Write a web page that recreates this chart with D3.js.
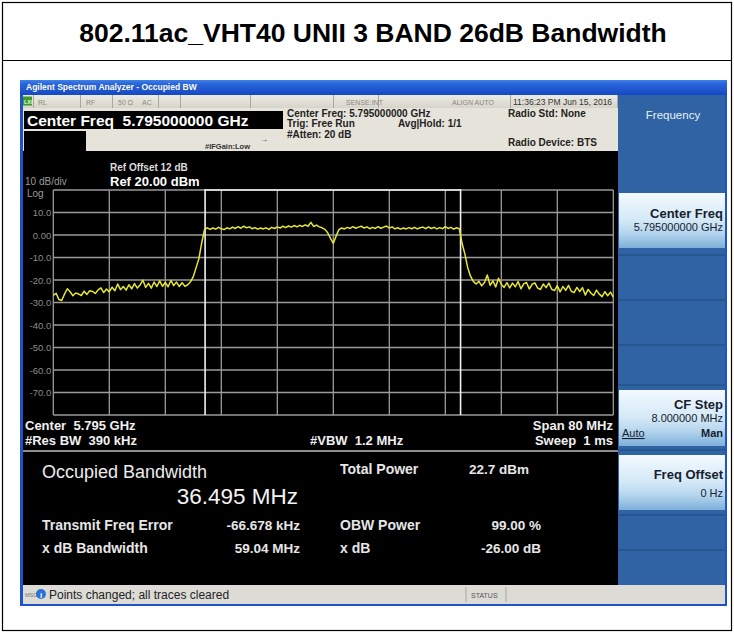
<!DOCTYPE html>
<html>
<head>
<meta charset="utf-8">
<script src="https://cdn.jsdelivr.net/npm/d3@7"></script>
<style>
  body { margin: 0; background: #fff; }
  svg { display: block; }
  text { font-family: "Liberation Sans", Arial, sans-serif; white-space: pre; }
</style>
</head>
<body>
<svg id="chart" width="734" height="633"></svg>
<script>
// ---- measurement setup -------------------------------------------------
const chartTitle = "802.11ac_VHT40 UNII 3 BAND 26dB Bandwidth";
const spanMHz = 80;
const refLevelDbm = 20;
const dbPerDiv = 10;
const numDivs = 10;

// y-axis scale labels (one per graticule line below the reference level)
const yTickValues = [10, 0, -10, -20, -30, -40, -50, -60, -70];
const yTickLabels = ["10.0", "0.00", "-10.0", "-20.0", "-30.0", "-40.0", "-50.0", "-60.0", "-70.0"];

// sweep trace (dBm), points spread evenly over the span, low to high frequency
const traceDbm = [
  -26.8,-25.9,-28.7,-29.1,-26.3,-23.9,-25.2,-27.0,-25.8,-26.2,
  -26.9,-25.0,-26.4,-24.8,-25.1,-26.0,-24.4,-23.5,-25.6,-24.0,
  -25.3,-23.2,-24.8,-21.8,-24.3,-22.9,-24.5,-22.1,-23.9,-21.6,
  -23.6,-22.2,-20.1,-23.3,-21.5,-23.6,-20.9,-22.9,-20.4,-22.8,
  -21.1,-23.0,-20.2,-22.5,-20.9,-22.9,-21.2,-22.8,-22.1,-20.8,
  -18.5,-14.5,-10.5,-3.5,2.4,
  3.2,2.5,3.1,2.6,3.4,2.8,2.4,3.2,2.7,3.5,
  2.9,3.7,3.0,3.9,3.2,3.6,2.8,3.3,2.6,3.1,
  2.7,3.2,2.5,3.4,2.9,3.6,3.1,3.9,3.3,4.0,
  3.5,4.2,3.6,4.3,3.8,4.5,3.9,5.6,3.8,4.4,
  3.6,
  3.2,2.5,1.0,-1.5,-3.7,-0.5,2.4,3.1,2.7,
  3.4,2.9,3.7,3.0,3.5,3.9,3.1,3.6,2.8,3.4,
  2.9,3.7,3.0,3.5,4.0,3.1,3.6,2.7,3.2,2.6,
  3.1,2.7,3.3,2.8,3.4,2.7,3.2,3.5,2.8,3.6,
  2.9,3.4,2.7,3.3,2.8,3.7,2.9,3.4,2.6,3.2,
  2.8,
  -3.8,-8.5,-14.5,-18.3,-20.6,-21.8,
  -20.6,-22.6,-21.1,-17.8,-22.4,-20.4,-23.1,-19.2,-21.9,-23.3,
  -21.2,-23.5,-21.4,-23.0,-20.7,-23.9,-21.7,-21.1,-24.0,-21.9,
  -21.3,-23.6,-24.2,-21.8,-23.4,-21.4,-24.1,-24.7,-22.5,-25.3,
  -22.9,-24.6,-22.4,-25.0,-25.6,-23.3,-25.1,-23.4,-26.7,-24.2,
  -25.8,-26.9,-24.5,-26.3,-27.4,-25.2,-27.0,-25.4,-27.6
];

// occupied bandwidth result; the OBW window is centred on the measured carrier
const obwMHz = 36.495;
const freqErrorKHz = -66.678;

// results table
const resultNames  = ["Total Power", "Transmit Freq Error", "OBW Power", "x dB Bandwidth", "x dB"];
const resultValues = ["22.7 dBm", "-66.678 kHz", "99.00 %", "59.04 MHz", "-26.00 dB"];

// header / footer annotations
const headerLines = ["Center Freq: 5.795000000 GHz", "Trig: Free Run", "#Atten: 20 dB"];
const footerLeft  = ["Center  5.795 GHz", "#Res BW  390 kHz"];
const footerRight = ["Span 80 MHz", "Sweep  1 ms"];

// ---- drawing -----------------------------------------------------------
const svg = d3.select("#chart");
const defs = svg.append("defs");

function vGrad(id, stops) {
  const g = defs.append("linearGradient").attr("id", id)
    .attr("x1", 0).attr("y1", 0).attr("x2", 0).attr("y2", 1);
  stops.forEach(([o, c]) => g.append("stop").attr("offset", o).attr("stop-color", c));
}
vGrad("titlebar", [[0, "#3f82ea"], [0.25, "#2a66db"], [1, "#1548c4"]]);
vGrad("softkey", [[0, "#f4faff"], [0.5, "#d3e8f6"], [0.72, "#b6d6ee"], [1, "#7eb0da"]]);
vGrad("statusrow", [[0, "#ecebe4"], [1, "#d6d4ca"]]);

// page frame and heading
svg.append("rect").attr("x", 2.5).attr("y", 2.5).attr("width", 729).attr("height", 628)
  .attr("fill", "#fff").attr("stroke", "#000").attr("stroke-width", 1.2);
svg.append("line").attr("x1", 2.5).attr("x2", 731.5).attr("y1", 60.5).attr("y2", 60.5)
  .attr("stroke", "#000").attr("stroke-width", 1.2);
svg.append("text").attr("x", 373).attr("y", 42).attr("text-anchor", "middle")
  .attr("font-size", 26.5).attr("font-weight", "bold").attr("fill", "#000").text(chartTitle);

// analyzer window
const win = svg.append("g");
win.append("rect").attr("x", 20).attr("y", 80).attr("width", 707).attr("height", 526).attr("fill", "#1d52c8");
win.append("rect").attr("x", 20).attr("y", 80).attr("width", 707).attr("height", 15).attr("fill", "url(#titlebar)");
win.append("text").attr("x", 26).attr("y", 90).attr("font-size", 8.5).attr("font-weight", "bold")
  .attr("fill", "#fdfbe8").text("Agilent Spectrum Analyzer - Occupied BW");

// status row
win.append("rect").attr("x", 23).attr("y", 95).attr("width", 595).attr("height", 13).attr("fill", "url(#statusrow)");
const cellEdges = [33, 80, 112, 158, 180, 250, 333, 378, 510, 617];
cellEdges.forEach(cx => win.append("line").attr("x1", cx + 0.5).attr("x2", cx + 0.5)
  .attr("y1", 95).attr("y2", 108).attr("stroke", "#a9a79e").attr("stroke-width", 1));
win.append("rect").attr("x", 23).attr("y", 96.5).attr("width", 9).attr("height", 9).attr("fill", "#3c9a2a");
win.append("text").attr("x", 24).attr("y", 103.5).attr("font-size", 5.5).attr("font-weight", "bold").attr("fill", "#e8ffd8").text("LXI");
[["RL", 38], ["RF", 86], ["50 Ω", 118], ["AC", 142], ["SENSE:INT", 346], ["ALIGN AUTO", 452]].forEach(([t, tx]) =>
  win.append("text").attr("x", tx).attr("y", 104.5).attr("font-size", 7).attr("fill", "#8a887f").text(t));
win.append("text").attr("x", 513).attr("y", 104.5).attr("font-size", 8.5).attr("fill", "#333").text("11:36:23 PM Jun 15, 2016");

// header block
win.append("rect").attr("x", 23).attr("y", 108).attr("width", 595).attr("height", 43).attr("fill", "#e6e4da");
win.append("rect").attr("x", 24).attr("y", 111).attr("width", 259).attr("height", 18).attr("fill", "#000");
win.append("text").attr("x", 27).attr("y", 125.5).attr("font-size", 15.5).attr("font-weight", "bold")
  .attr("fill", "#fff").text("Center Freq  5.795000000 GHz");
win.append("rect").attr("x", 24).attr("y", 131).attr("width", 62).attr("height", 20).attr("fill", "#000");
win.append("text").attr("x", 205).attr("y", 149).attr("font-size", 7.5).attr("font-weight", "bold")
  .attr("fill", "#333").text("#IFGain:Low");
win.append("text").attr("x", 260).attr("y", 142).attr("font-size", 8).attr("fill", "#333").text("→");
headerLines.forEach((t, i) => win.append("text").attr("x", 287).attr("y", 116.5 + i * 10.5)
  .attr("font-size", 10).attr("font-weight", "bold").attr("fill", "#222").text(t));
win.append("text").attr("x", 398).attr("y", 127).attr("font-size", 10).attr("font-weight", "bold").attr("fill", "#222").text("Avg|Hold: 1/1");
win.append("text").attr("x", 508).attr("y", 116.5).attr("font-size", 10).attr("font-weight", "bold").attr("fill", "#222").text("Radio Std: None");
win.append("text").attr("x", 508).attr("y", 146).attr("font-size", 10).attr("font-weight", "bold").attr("fill", "#222").text("Radio Device: BTS");

// display area
win.append("rect").attr("x", 23).attr("y", 151).attr("width", 595).attr("height", 434).attr("fill", "#000");

const plot = { left: 53.3, right: 613.3, top: 190, bottom: 415 };
const x = d3.scaleLinear().domain([-spanMHz / 2, spanMHz / 2]).range([plot.left, plot.right]);
const y = d3.scaleLinear().domain([refLevelDbm - dbPerDiv * numDivs, refLevelDbm]).range([plot.bottom, plot.top]);

// graticule
const gx = d3.range(numDivs + 1).map(i => -spanMHz / 2 + i * spanMHz / numDivs);
const gy = d3.range(numDivs + 1).map(i => refLevelDbm - i * dbPerDiv);
const grid = win.append("g").attr("stroke", "#9b9b9b").attr("stroke-width", 1.3);
grid.selectAll("line.v").data(gx).join("line").attr("class", "v")
  .attr("x1", d => x(d)).attr("x2", d => x(d)).attr("y1", plot.top).attr("y2", plot.bottom);
grid.selectAll("line.h").data(gy).join("line").attr("class", "h")
  .attr("y1", d => y(d)).attr("y2", d => y(d)).attr("x1", plot.left).attr("x2", plot.right);

// scale labels
const yAxis = d3.axisLeft(y).tickValues(yTickValues).tickFormat((d, i) => yTickLabels[i]).tickSize(0).tickPadding(0);
const yAxisG = win.append("g").attr("transform", `translate(${plot.left - 2},0)`).call(yAxis);
yAxisG.select(".domain").remove();
yAxisG.selectAll("text").attr("font-size", 9.5).attr("fill", "#8d8d8d")
  .attr("font-family", "\"Liberation Sans\", Arial, sans-serif");

win.append("text").attr("x", 25).attr("y", 185).attr("font-size", 10).attr("fill", "#9a9a9a").text("10 dB/div");
win.append("text").attr("x", 27).attr("y", 197).attr("font-size", 10).attr("fill", "#9a9a9a").text("Log");
win.append("text").attr("x", 110).attr("y", 171).attr("font-size", 10).attr("font-weight", "bold").attr("fill", "#ddd").text("Ref Offset 12 dB");
win.append("text").attr("x", 110).attr("y", 185.5).attr("font-size", 13).attr("font-weight", "bold").attr("fill", "#fff").text("Ref 20.00 dBm");

// OBW window markers
const carrierMHz = freqErrorKHz / 1000;
const obwEdges = [carrierMHz - obwMHz / 2, carrierMHz + obwMHz / 2];
const mk = win.append("g").attr("stroke", "#f2f2f2").attr("stroke-width", 1.6);
mk.selectAll("line.m").data(obwEdges).join("line").attr("class", "m")
  .attr("x1", d => x(d)).attr("x2", d => x(d)).attr("y1", plot.top - 1).attr("y2", plot.bottom);
mk.append("line").attr("x1", x(obwEdges[0])).attr("x2", x(obwEdges[1]))
  .attr("y1", plot.top).attr("y2", plot.top);

// trace
const stepMHz = spanMHz / (traceDbm.length - 1);
const line = d3.line().x((d, i) => x(-spanMHz / 2 + i * stepMHz)).y(d => y(d));
win.append("path").datum(traceDbm).attr("d", line).attr("fill", "none")
  .attr("stroke", "#e6e635").attr("stroke-width", 1.5).attr("stroke-linejoin", "round");

// footer annotations
footerLeft.forEach((t, i) => win.append("text").attr("x", 25).attr("y", 429.5 + i * 15)
  .attr("font-size", 13).attr("font-weight", "bold").attr("fill", "#f0f0f0").text(t));
footerRight.forEach((t, i) => win.append("text").attr("x", 613).attr("y", 429.5 + i * 15).attr("text-anchor", "end")
  .attr("font-size", 13).attr("font-weight", "bold").attr("fill", "#f0f0f0").text(t));
win.append("text").attr("x", 310).attr("y", 444.5).attr("font-size", 13).attr("font-weight", "bold")
  .attr("fill", "#f0f0f0").text("#VBW  1.2 MHz");

// results panel
win.append("line").attr("x1", 23).attr("x2", 618).attr("y1", 451).attr("y2", 451)
  .attr("stroke", "#bdbdbd").attr("stroke-width", 1.5);
win.append("text").attr("x", 42).attr("y", 478).attr("font-size", 18).attr("fill", "#ececec").text("Occupied Bandwidth");
win.append("text").attr("x", 298).attr("y", 504).attr("text-anchor", "end").attr("font-size", 22.5)
  .attr("fill", "#f4f4f4").text(obwMHz.toFixed(3) + " MHz");
const resultPos = [[340, 474, 529, "end"], [42, 530, 300, "end"], [340, 530, 541, "end"], [42, 553, 300, "end"], [340, 553, 541, "end"]];
resultNames.forEach((n, i) => {
  const [nx, ny, vx, va] = resultPos[i];
  win.append("text").attr("x", nx).attr("y", ny).attr("font-size", 14).attr("font-weight", "bold").attr("fill", "#e6e6e6").text(n);
  win.append("text").attr("x", vx).attr("y", ny).attr("text-anchor", va).attr("font-size", 13.5)
    .attr("font-weight", "bold").attr("fill", "#e6e6e6").text(resultValues[i]);
});

// softkey panel
win.append("rect").attr("x", 618).attr("y", 95).attr("width", 107).attr("height", 490).attr("fill", "#2f63a3");
[255, 300, 345, 385, 450, 515, 550].forEach(ly => win.append("line").attr("x1", 618).attr("x2", 725)
  .attr("y1", ly).attr("y2", ly).attr("stroke", "#245489").attr("stroke-width", 1.5));
win.append("text").attr("x", 673).attr("y", 119).attr("text-anchor", "middle").attr("font-size", 11.5)
  .attr("fill", "#e8f0fa").text("Frequency");
const softkeys = [
  { top: 193, h: 55, title: "Center Freq", sub: "5.795000000 GHz", ty: 218, sy: 231 },
  { top: 390, h: 56, title: "CF Step", sub: "8.000000 MHz", ty: 409, sy: 422 },
  { top: 455, h: 55, title: "Freq Offset", sub: "0 Hz", ty: 479, sy: 497 }
];
softkeys.forEach(k => {
  win.append("rect").attr("x", 619).attr("y", k.top).attr("width", 106).attr("height", k.h).attr("fill", "url(#softkey)");
  win.append("text").attr("x", 723).attr("y", k.ty).attr("text-anchor", "end").attr("font-size", 13)
    .attr("font-weight", "bold").attr("fill", "#16202e").text(k.title);
  win.append("text").attr("x", 723).attr("y", k.sy).attr("text-anchor", "end").attr("font-size", 11)
    .attr("fill", "#16202e").text(k.sub);
});
win.append("text").attr("x", 622).attr("y", 437).attr("font-size", 11).attr("fill", "#16202e")
  .attr("text-decoration", "underline").text("Auto");
win.append("text").attr("x", 723).attr("y", 437).attr("text-anchor", "end").attr("font-size", 11)
  .attr("font-weight", "bold").attr("fill", "#16202e").text("Man");

// message bar
win.append("rect").attr("x", 23).attr("y", 585).attr("width", 702).attr("height", 19).attr("fill", "#dcdbd6");
win.append("line").attr("x1", 466).attr("x2", 466).attr("y1", 587).attr("y2", 602).attr("stroke", "#a8a69e");
win.append("line").attr("x1", 506).attr("x2", 506).attr("y1", 587).attr("y2", 602).attr("stroke", "#a8a69e");
win.append("text").attr("x", 25).attr("y", 597).attr("font-size", 5.5).attr("fill", "#777").text("MSG");
win.append("circle").attr("cx", 41).attr("cy", 594).attr("r", 5).attr("fill", "#2a72d8");
win.append("text").attr("x", 41).attr("y", 597.5).attr("text-anchor", "middle").attr("font-size", 8)
  .attr("font-weight", "bold").attr("fill", "#fff").text("i");
win.append("text").attr("x", 49).attr("y", 598.5).attr("font-size", 12).attr("fill", "#222").text("Points changed; all traces cleared");
win.append("text").attr("x", 471).attr("y", 597.5).attr("font-size", 7).attr("fill", "#555").text("STATUS");
</script>
</body>
</html>
